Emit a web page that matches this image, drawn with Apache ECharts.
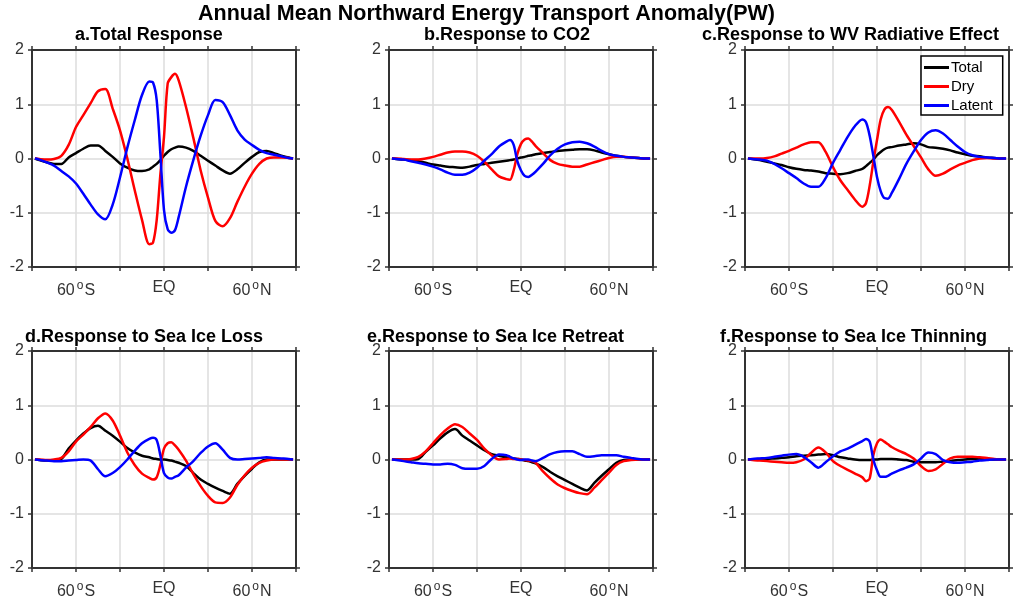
<!DOCTYPE html>
<html>
<head>
<meta charset="utf-8">
<script src="https://cdn.jsdelivr.net/npm/echarts@6/dist/echarts.min.js"></script>
<style>
  html, body { margin: 0; padding: 0; background: #fff; }
  #main { width: 1013px; height: 601px; }
</style>
</head>
<body>
<div id="main"></div>
<script>
// latitude grid (deg)
var lats = [-88, -85, -80, -75, -70, -65, -60, -55, -50, -45, -40, -35, -30, -25, -20, -15, -10, -7.5, -5, -2.5,
  0, 2.5, 5, 7.5, 10, 15, 20, 25, 30, 35, 40, 45, 50, 55, 60, 65, 70, 75, 80, 85, 88];

// a. Total Response
var totalA = [0, -0.03, -0.07, -0.1, -0.1, 0.02, 0.1, 0.18, 0.24, 0.24, 0.14, 0.03, -0.09, -0.17, -0.22, -0.23, -0.2, -0.15, -0.1, -0.03,
  0.05, 0.12, 0.17, 0.2, 0.22, 0.2, 0.14, 0.05, -0.04, -0.13, -0.22, -0.28, -0.2, -0.08, 0.03, 0.12, 0.14, 0.1, 0.05, 0.02, 0];
var dryA = [0, -0.01, -0.02, -0.01, 0.05, 0.25, 0.58, 0.8, 1.02, 1.24, 1.28, 0.92, 0.52, 0.0, -0.58, -1.13, -1.58, -1.55, -1.14, -0.3,
  0.4, 1.38, 1.5, 1.56, 1.44, 0.95, 0.38, -0.22, -0.72, -1.15, -1.25, -1.1, -0.8, -0.52, -0.28, -0.1, 0.0, 0.02, 0.02, 0.01, 0];
var latentA = [0, -0.02, -0.07, -0.13, -0.23, -0.33, -0.46, -0.65, -0.85, -1.03, -1.12, -0.85, -0.35, 0.2, 0.7, 1.17, 1.42, 1.4, 1.08, 0.1,
  -0.95, -1.3, -1.37, -1.32, -1.08, -0.52, -0.03, 0.42, 0.8, 1.08, 1.04, 0.8, 0.52, 0.35, 0.25, 0.16, 0.1, 0.07, 0.04, 0.01, 0];

// b. Response to CO2
var totalB = [0, -0.01, -0.02, -0.03, -0.05, -0.08, -0.11, -0.13, -0.15, -0.16, -0.17, -0.15, -0.12, -0.1, -0.08, -0.06, -0.04, -0.03, -0.02, 0.0,
  0.02, 0.03, 0.05, 0.06, 0.08, 0.1, 0.12, 0.14, 0.15, 0.16, 0.17, 0.17, 0.15, 0.11, 0.08, 0.05, 0.03, 0.02, 0.01, 0, 0];
var dryB = [0, 0, -0.01, -0.02, -0.02, 0.0, 0.03, 0.07, 0.11, 0.13, 0.13, 0.11, 0.05, -0.06, -0.2, -0.33, -0.38, -0.39, -0.22, 0.08,
  0.27, 0.35, 0.37, 0.31, 0.23, 0.1, -0.03, -0.1, -0.13, -0.15, -0.15, -0.11, -0.07, -0.03, 0.01, 0.03, 0.03, 0.02, 0.01, 0, 0];
var latentB = [0, -0.01, -0.02, -0.05, -0.08, -0.11, -0.15, -0.2, -0.26, -0.3, -0.3, -0.26, -0.17, -0.04, 0.08, 0.22, 0.31, 0.34, 0.25, -0.05,
  -0.22, -0.32, -0.34, -0.3, -0.24, -0.1, 0.06, 0.18, 0.26, 0.3, 0.31, 0.28, 0.22, 0.14, 0.08, 0.05, 0.03, 0.02, 0.01, 0, 0];

// c. Response to WV Radiative Effect
var totalC = [0, -0.01, -0.03, -0.06, -0.09, -0.12, -0.16, -0.19, -0.21, -0.22, -0.24, -0.27, -0.28, -0.29, -0.27, -0.23, -0.19, -0.14, -0.08, -0.02,
  0.06, 0.12, 0.17, 0.2, 0.21, 0.24, 0.26, 0.28, 0.26, 0.21, 0.2, 0.18, 0.15, 0.11, 0.08, 0.05, 0.04, 0.02, 0.01, 0, 0];
var dryC = [0, 0, 0, 0.01, 0.04, 0.09, 0.14, 0.2, 0.26, 0.3, 0.3, 0.12, -0.16, -0.4, -0.58, -0.76, -0.89, -0.82, -0.5, -0.06,
  0.34, 0.72, 0.9, 0.95, 0.9, 0.68, 0.44, 0.23, 0.02, -0.2, -0.32, -0.28, -0.2, -0.13, -0.08, -0.03, 0, 0.01, 0, 0, 0];
var latentC = [0, -0.01, -0.02, -0.04, -0.1, -0.18, -0.27, -0.36, -0.46, -0.52, -0.52, -0.36, -0.08, 0.16, 0.4, 0.6, 0.72, 0.67, 0.42, 0.05,
  -0.34, -0.6, -0.73, -0.74, -0.64, -0.38, -0.1, 0.13, 0.34, 0.48, 0.52, 0.46, 0.34, 0.22, 0.12, 0.06, 0.03, 0.02, 0.01, 0, 0];

// d. Response to Sea Ice Loss
var totalD = [0, -0.01, -0.02, -0.02, 0.01, 0.2, 0.35, 0.48, 0.58, 0.62, 0.53, 0.44, 0.33, 0.21, 0.13, 0.07, 0.04, 0.02, 0.01, 0,
  0, -0.01, -0.02, -0.04, -0.06, -0.12, -0.25, -0.37, -0.45, -0.52, -0.58, -0.63, -0.45, -0.3, -0.17, -0.05, 0, 0, 0, 0, 0];
var dryD = [0, 0, -0.01, 0, 0.03, 0.15, 0.33, 0.46, 0.6, 0.76, 0.85, 0.72, 0.44, 0.13, -0.1, -0.26, -0.34, -0.37, -0.33, -0.1,
  0.2, 0.3, 0.32, 0.26, 0.18, -0.02, -0.27, -0.49, -0.67, -0.79, -0.8, -0.7, -0.47, -0.29, -0.15, -0.06, -0.02, 0, 0, 0, 0];
var latentD = [0, -0.01, -0.02, -0.03, -0.03, -0.02, -0.01, 0, -0.02, -0.18, -0.31, -0.25, -0.14, 0.0, 0.16, 0.3, 0.38, 0.4, 0.36, 0.08,
  -0.25, -0.33, -0.35, -0.32, -0.29, -0.15, -0.03, 0.12, 0.24, 0.3, 0.18, 0.03, 0, 0.01, 0.02, 0.03, 0.04, 0.03, 0.02, 0.01, 0];

// e. Response to Sea Ice Retreat
var totalE = [0, 0, 0, 0, 0.01, 0.14, 0.26, 0.39, 0.5, 0.56, 0.44, 0.35, 0.26, 0.17, 0.1, 0.07, 0.04, 0.03, 0.02, 0.01,
  0, -0.02, -0.03, -0.05, -0.07, -0.14, -0.23, -0.31, -0.38, -0.45, -0.52, -0.57, -0.43, -0.3, -0.18, -0.06, -0.01, 0, 0, 0, 0];
var dryE = [0, 0, 0, 0.01, 0.05, 0.15, 0.3, 0.45, 0.57, 0.65, 0.6, 0.48, 0.36, 0.2, 0.08, 0.0, 0.01, 0.02, 0.01, 0.01,
  0, -0.01, -0.02, -0.03, -0.06, -0.22, -0.35, -0.46, -0.53, -0.58, -0.62, -0.64, -0.52, -0.38, -0.24, -0.1, -0.03, -0.01, 0, 0, 0];
var latentE = [0, -0.01, -0.03, -0.05, -0.07, -0.08, -0.09, -0.09, -0.08, -0.1, -0.16, -0.17, -0.17, -0.12, 0.01, 0.09, 0.08, 0.05, 0.02, 0,
  -0.01, 0, 0, -0.02, -0.03, 0.03, 0.1, 0.14, 0.15, 0.15, 0.1, 0.05, 0.06, 0.08, 0.08, 0.08, 0.05, 0.03, 0.01, 0, 0];

// f. Response to Sea Ice Thinning
var totalF = [0, 0, 0.01, 0.01, 0.02, 0.03, 0.04, 0.06, 0.07, 0.08, 0.09, 0.1, 0.08, 0.04, 0.02, 0, -0.01, -0.01, -0.01, 0,
  0, 0.01, 0.01, 0.01, 0.01, 0, -0.01, -0.04, -0.05, -0.05, -0.05, -0.04, -0.03, -0.01, 0, 0.01, 0.01, 0.01, 0, 0, 0];
var dryF = [0, -0.01, -0.02, -0.03, -0.04, -0.05, -0.06, -0.05, 0.0, 0.12, 0.22, 0.13, -0.03, -0.12, -0.19, -0.26, -0.33, -0.4, -0.35, 0.08,
  0.3, 0.37, 0.33, 0.28, 0.23, 0.16, 0.1, 0.02, -0.12, -0.21, -0.18, -0.08, 0.02, 0.05, 0.05, 0.05, 0.04, 0.03, 0.01, 0, 0];
var latentF = [0, 0.01, 0.02, 0.03, 0.05, 0.07, 0.09, 0.1, 0.05, -0.05, -0.15, -0.05, 0.06, 0.15, 0.2, 0.27, 0.34, 0.38, 0.33, 0.0,
  -0.2, -0.32, -0.32, -0.3, -0.26, -0.2, -0.15, -0.09, 0.02, 0.13, 0.1, -0.01, -0.05, -0.06, -0.05, -0.04, -0.02, -0.01, 0, 0, 0];

var panelTitles = ['a.Total Response', 'b.Response to CO2', 'c.Response to WV Radiative Effect',
  'd.Response to Sea Ice Loss', 'e.Response to Sea Ice Retreat', 'f.Response to Sea Ice Thinning'];
var panelData = [
  [totalA, dryA, latentA], [totalB, dryB, latentB], [totalC, dryC, latentC],
  [totalD, dryD, latentD], [totalE, dryE, latentE], [totalF, dryF, latentF]
];
var seriesNames = ['Total', 'Dry', 'Latent'];
var seriesColors = ['#000000', '#ff0000', '#0000ff'];
var yTicks = ['-2', '-1', '0', '1', '2'];

// layout
var gridLefts = [32, 389, 745, 32, 389, 745];
var gridTops = [50, 50, 50, 351, 351, 351];
var titleLefts = [75, 424, 702, 25, 367, 720];
var titleTops = [26, 26, 26, 328, 328, 328];
var FONT = 'Liberation Sans, Arial, sans-serif';

function pairs(xs, ys) {
  return xs.map(function (x, i) { return [x, ys[i]]; });
}

function latLabel(v) {
  if (v === -60) return '60{o|o}S';
  if (v === 0) return 'EQ';
  if (v === 60) return '60{o|o}N';
  return '';
}

var grids = [], xAxes = [], yAxes = [], series = [];
var titles = [{
  text: 'Annual Mean Northward Energy Transport Anomaly(PW)',
  left: 198, top: 3, padding: 0,
  textStyle: { fontFamily: FONT, fontSize: 21.5, fontWeight: 'bold', color: '#000' }
}];

var axisLine = { show: true, onZero: false, lineStyle: { color: '#333', width: 2 } };
var splitLine = { show: true, lineStyle: { color: '#dcdcdc', width: 1.5 } };
var tick = { show: true, length: 4, lineStyle: { color: '#333', width: 1.5 } };

panelTitles.forEach(function (t, i) {
  grids.push({ left: gridLefts[i], top: gridTops[i], width: 264, height: 217 });
  titles.push({
    text: t, left: titleLefts[i], top: titleTops[i], padding: 0,
    textStyle: { fontFamily: FONT, fontSize: 18, fontWeight: 'bold', color: '#000' }
  });

  // bottom / top
  xAxes.push({
    type: 'value', gridIndex: i, min: -90, max: 90, interval: 30, position: 'bottom',
    axisLine: axisLine, axisTick: tick,
    axisLabel: {
      margin: 13, fontFamily: FONT, fontSize: 16, color: '#333',
      formatter: latLabel, showMinLabel: true, showMaxLabel: true,
      rich: { o: { fontFamily: FONT, fontSize: 12, padding: [0, 1, 9, 2], color: '#333' } }
    },
    splitLine: splitLine
  });
  xAxes.push({
    type: 'value', gridIndex: i, min: -90, max: 90, interval: 30, position: 'top',
    axisLine: axisLine, axisTick: tick,
    axisLabel: { show: false }, splitLine: { show: false }
  });
  // left / right
  yAxes.push({
    type: 'value', gridIndex: i, min: -2, max: 2, interval: 1, position: 'left',
    axisLine: axisLine, axisTick: tick,
    axisLabel: {
      margin: 8, fontFamily: FONT, fontSize: 16, color: '#333',
      formatter: function (v) { return yTicks[v + 2]; }
    },
    splitLine: splitLine
  });
  yAxes.push({
    type: 'value', gridIndex: i, min: -2, max: 2, interval: 1, position: 'right',
    axisLine: axisLine, axisTick: tick,
    axisLabel: { show: false }, splitLine: { show: false }
  });

  panelData[i].forEach(function (vals, k) {
    series.push({
      name: seriesNames[k], type: 'line',
      xAxisIndex: i * 2, yAxisIndex: i * 2,
      data: pairs(lats, vals),
      smooth: 0.3, showSymbol: false, silent: true,
      lineStyle: { color: seriesColors[k], width: 2.5 },
      itemStyle: { color: seriesColors[k] },
      z: 3 + k
    });
  });
});

var chart = echarts.init(document.getElementById('main'));
chart.setOption({
  animation: false,
  backgroundColor: '#fff',
  title: titles,
  legend: {
    data: seriesNames, orient: 'vertical', left: 921, top: 56,
    padding: [4, 10, 2, 3], itemGap: 4, itemWidth: 25, itemHeight: 3,
    icon: 'rect', backgroundColor: '#fff', borderColor: '#000', borderWidth: 1.5, borderRadius: 0,
    textStyle: { fontFamily: FONT, fontSize: 15, lineHeight: 15, color: '#000', padding: [0, 0, 0, -3] }
  },
  grid: grids,
  xAxis: xAxes,
  yAxis: yAxes,
  series: series
});
</script>
</body>
</html>
